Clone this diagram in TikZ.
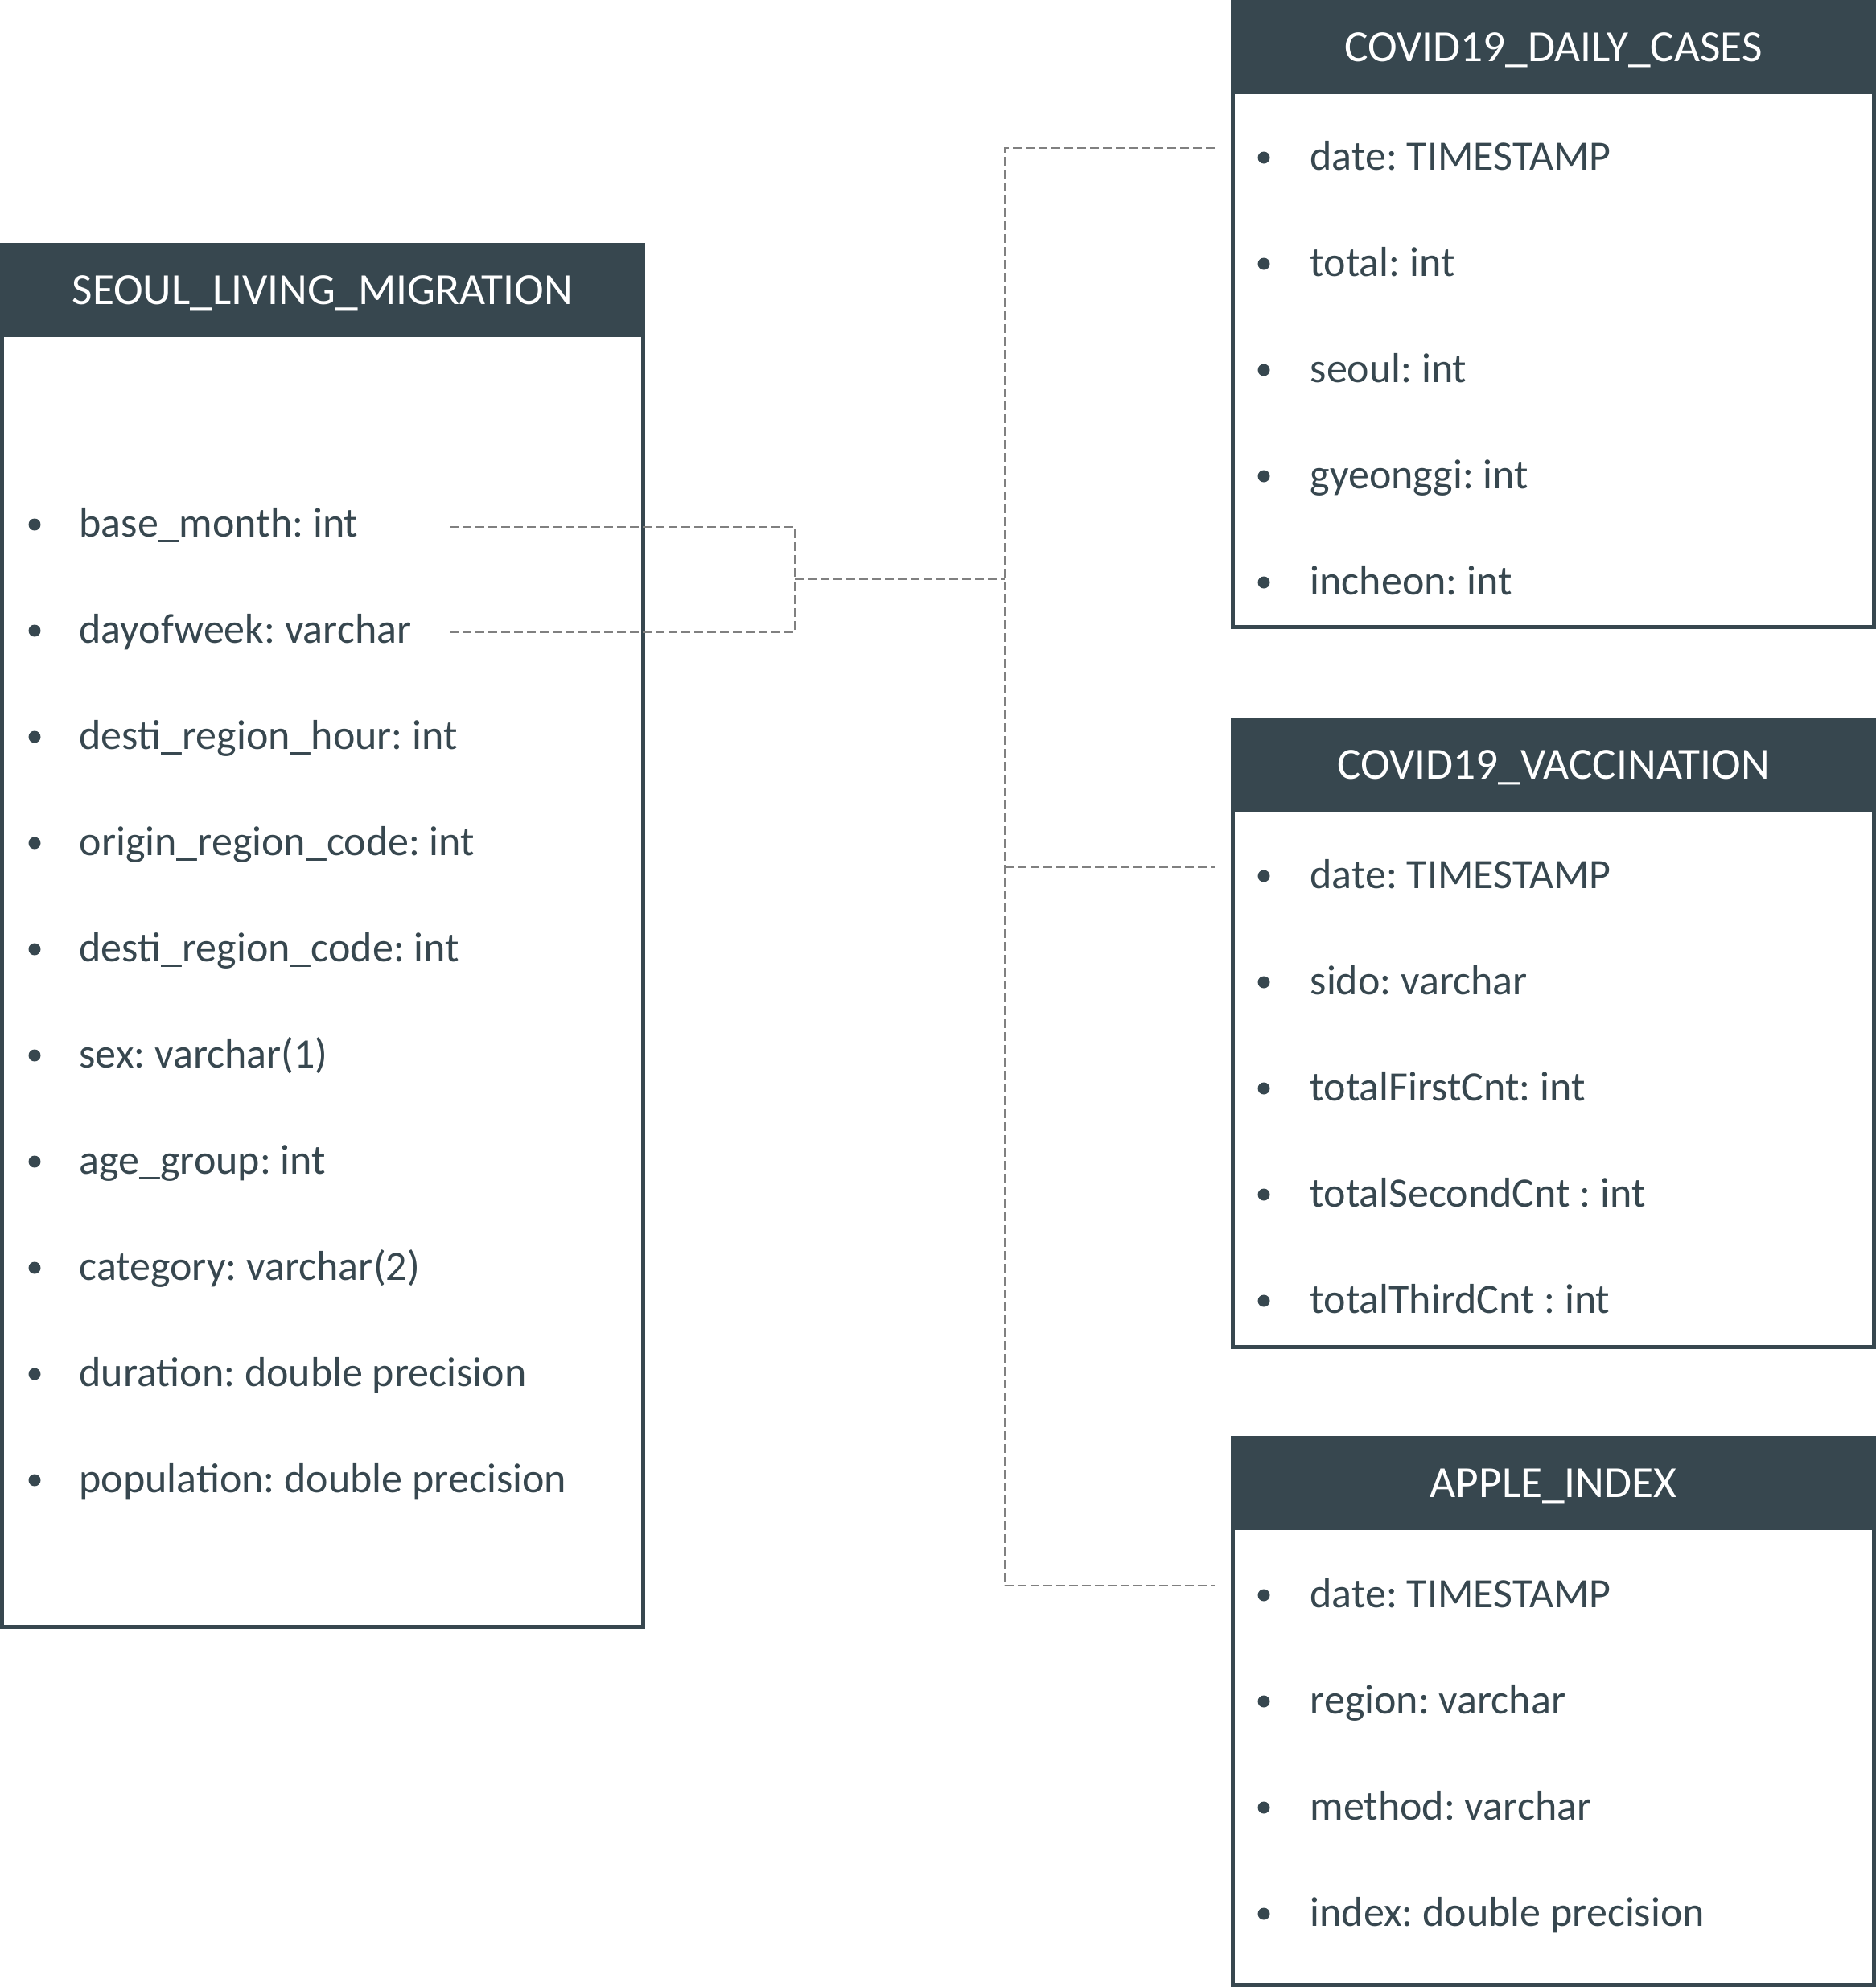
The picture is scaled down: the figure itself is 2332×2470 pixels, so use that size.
\documentclass[tikz,border=0pt]{standalone}
\usepackage{fontspec}
\setmainfont{Carlito}
\frenchspacing
\definecolor{slate}{HTML}{37474F}
\definecolor{dashgray}{HTML}{808080}
\tikzset{
  tbox/.style={draw=slate, line width=1.5pt},
  thead/.style={fill=slate},
  ttitle/.style={text=white, font=\fontsize{16.6pt}{18pt}\selectfont\frenchspacing, anchor=base, inner sep=0pt},
  titem/.style={text=slate, font=\fontsize{15.6pt}{18pt}\selectfont\frenchspacing, anchor=base west, inner sep=0pt},
  bul/.style={fill=slate, draw=none},
  conn/.style={draw=dashgray, line width=0.6pt, dash pattern=on 3.3pt off 1.5pt},
}
\begin{document}
\begin{tikzpicture}[x=0.3pt,y=-0.3pt]
\useasboundingbox (0,0) rectangle (2332,2470);
% ---------- SEOUL_LIVING_MIGRATION ----------
\draw[tbox] (2.5,304) rectangle (799.5,2022);
\fill[thead] (0,302) rectangle (802,419);
\node[ttitle] (slmT) at (401,378) {SEOUL\_LIVING\_MIGRATION};
\foreach \i/\t [count=\k from 0] in {a/base\_month: int, b/dayofweek: varchar, c/desti\_region\_hour: int, d/origin\_region\_code: int, e/desti\_region\_code: int, f/sex: varchar(1), g/age\_group: int, h/category: varchar(2), i/duration: double precision, j/population: double precision}{
  \pgfmathsetmacro{\yy}{667+132*\k}
  \fill[bul] (43,\yy-15) circle (7.5);
  \node[titem] (slm\i) at (98,\yy) {\t};
}
% ---------- COVID19_DAILY_CASES ----------
\draw[tbox] (1532,2.5) rectangle (2329.5,779);
\fill[thead] (1529.5,0) rectangle (2332,117);
\node[ttitle] (dcT) at (1931,76) {COVID19\_DAILY\_CASES};
\foreach \i/\t [count=\k from 0] in {a/date: TIMESTAMP, b/total: int, c/seoul: int, d/gyeonggi: int, e/incheon: int}{
  \pgfmathsetmacro{\yy}{211+132*\k}
  \fill[bul] (1571,\yy-15) circle (7.5);
  \node[titem] (dc\i) at (1628,\yy) {\t};
}
% ---------- COVID19_VACCINATION ----------
\draw[tbox] (1532,894.5) rectangle (2329.5,1674);
\fill[thead] (1529.5,892) rectangle (2332,1009);
\node[ttitle] (vcT) at (1931,968) {COVID19\_VACCINATION};
\foreach \i/\t [count=\k from 0] in {a/date: TIMESTAMP, b/sido: varchar, c/totalFirstCnt: int, d/totalSecondCnt : int, e/totalThirdCnt : int}{
  \pgfmathsetmacro{\yy}{1104+132*\k}
  \fill[bul] (1571,\yy-15) circle (7.5);
  \node[titem] (vc\i) at (1628,\yy) {\t};
}
% ---------- APPLE_INDEX ----------
\draw[tbox] (1532,1787.5) rectangle (2329.5,2467.5);
\fill[thead] (1529.5,1785) rectangle (2332,1902);
\node[ttitle] (apT) at (1931,1861) {APPLE\_INDEX};
\foreach \i/\t [count=\k from 0] in {a/date: TIMESTAMP, b/region: varchar, c/method: varchar, d/index: double precision}{
  \pgfmathsetmacro{\yy}{1998+132*\k}
  \fill[bul] (1571,\yy-15) circle (7.5);
  \node[titem] (ap\i) at (1628,\yy) {\t};
}
% ---------- connectors ----------
\coordinate (bm) at (559,655);
\coordinate (dw) at (559,786);
\coordinate (j1) at (988,720);
\coordinate (j2) at (1249,720);
\coordinate (v1) at (1249,184);
\coordinate (v2) at (1249,1078);
\coordinate (v3) at (1249,1971);
\coordinate (e1) at (1510,184);
\coordinate (e2) at (1510,1078);
\coordinate (e3) at (1510,1971);
\draw[conn] (bm) -| (j1);
\draw[conn] (dw) -| (j1);
\draw[conn] (j1) -- (j2);
\draw[conn] (e1) -- (v1) -- (v3) -- (e3);
\draw[conn] (v2) -- (e2);
\end{tikzpicture}
\end{document}
